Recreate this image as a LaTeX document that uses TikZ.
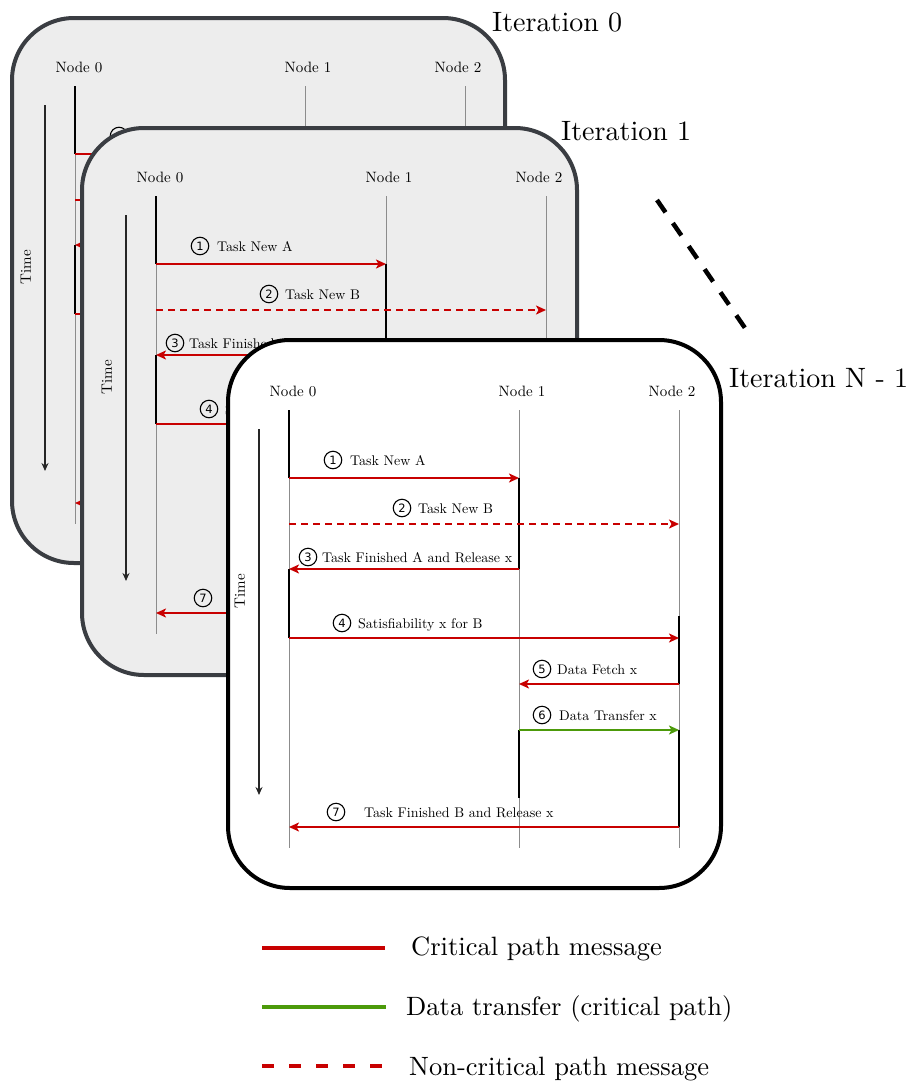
\documentclass[tikz,border=0pt]{standalone}
\usepackage{fontspec}
\setmainfont{lmroman10-regular.otf}
\newfontfamily\digitfont{DejaVu Sans}
\usetikzlibrary{arrows.meta}

\definecolor{msgred}{RGB}{200,0,0}
\definecolor{xfergreen}{RGB}{76,154,10}
\definecolor{cardgrey}{RGB}{237,237,237}
\definecolor{cardedge}{RGB}{58,61,66}
\definecolor{lifegrey}{RGB}{140,140,140}

\tikzset{
  card/.style={line width=4pt, rounded corners=62pt},
  backcard/.style={card, draw=cardedge, fill=cardgrey},
  frontcard/.style={card, draw=black, fill=white},
  nodelabel/.style={font=\fontsize{15}{18}\selectfont, inner sep=0pt, anchor=base},
  msglabel/.style={font=\fontsize{14}{17}\selectfont, inner sep=0pt, anchor=base west},
  numcirc/.style={circle, draw=black, line width=1.1pt, minimum size=17.5pt, inner sep=0pt,
                  font=\digitfont\fontsize{11.5}{12}\selectfont},
  timelabel/.style={font=\fontsize{15}{18}\selectfont, inner sep=0pt, rotate=90},
  lifeline/.style={draw=lifegrey, line width=0.9pt},
  activebar/.style={draw=black, line width=2.8pt},
  critmsg/.style={draw=msgred, line width=2pt, -{Stealth[length=10pt,width=9pt,inset=2.5pt]}},
  noncritmsg/.style={critmsg, dash pattern=on 7pt off 5pt},
  xfermsg/.style={critmsg, draw=xfergreen},
  timearrow/.style={draw=black!85, line width=1.4pt, -{Stealth[length=8pt,width=7pt]}},
  iterlabel/.style={font=\fontsize{28}{32}\selectfont, inner sep=0pt, anchor=base west},
  legendtext/.style={font=\fontsize{26.5}{32}\selectfont, inner sep=0pt, anchor=base west},
  legendline/.style={line width=4pt},
}

% One sequence diagram: three lifelines, seven messages.
% #1 is a prefix that keeps the names of each copy apart.
\newcommand\seqdiagram[1]{%
  % lifeline ends
  \coordinate (#1p0a) at (289,410); \coordinate (#1p0z) at (289,848);
  \coordinate (#1p1a) at (519,410); \coordinate (#1p1z) at (519,848);
  \coordinate (#1p2a) at (679,410); \coordinate (#1p2z) at (679,848);
  % message levels
  \coordinate (#1p0m1) at (289,478); \coordinate (#1p1m1) at (519,478);
  \coordinate (#1p0m2) at (289,524); \coordinate (#1p2m2) at (679,524);
  \coordinate (#1p1m3) at (519,569); \coordinate (#1p0m3) at (289,569);
  \coordinate (#1p0m4) at (289,638); \coordinate (#1p2m4) at (679,638);
  \coordinate (#1p2m5) at (679,684); \coordinate (#1p1m5) at (519,684);
  \coordinate (#1p1m6) at (519,730); \coordinate (#1p2m6) at (679,730);
  \coordinate (#1p2m7) at (679,827); \coordinate (#1p0m7) at (289,827);
  \coordinate (#1p2b) at (679,616);  \coordinate (#1p1c) at (519,798);
  % time axis
  \coordinate (#1ta) at (259,429); \coordinate (#1tz) at (259,795);
  % headings
  \node[nodelabel] (#1n0) at (293,396) {Node 0};
  \node[nodelabel] (#1n1) at (522,396) {Node 1};
  \node[nodelabel] (#1n2) at (672,396) {Node 2};
  % lifelines
  \draw[lifeline] (#1p0a) -- (#1p0z);
  \draw[lifeline] (#1p1a) -- (#1p1z);
  \draw[lifeline] (#1p2a) -- (#1p2z);
  % time
  \draw[timearrow] (#1ta) -- (#1tz);
  \node[timelabel] (#1time) at (240,591) {Time};
  % activation bars
  \draw[activebar] (#1p0a) -- (#1p0m1);
  \draw[activebar] (#1p1m1) -- (#1p1m3);
  \draw[activebar] (#1p0m3) -- (#1p0m4);
  \draw[activebar] (#1p2b) -- (#1p2m5);
  \draw[activebar] (#1p1m6) -- (#1p1c);
  \draw[activebar] (#1p2m6) -- (#1p2m7);
  % messages
  \draw[critmsg] (#1p0m1) -- (#1p1m1);
  \draw[noncritmsg] (#1p0m2) -- (#1p2m2);
  \draw[critmsg] (#1p1m3) -- (#1p0m3);
  \draw[critmsg] (#1p0m4) -- (#1p2m4);
  \draw[critmsg] (#1p2m5) -- (#1p1m5);
  \draw[xfermsg] (#1p1m6) -- (#1p2m6);
  \draw[critmsg] (#1p2m7) -- (#1p0m7);
  % message numbers and labels
  \node[numcirc] (#1c1) at (333,460) {1};
  \node[msglabel] (#1l1) at (350,465) {Task New A};
  \node[numcirc] (#1c2) at (402,508) {2};
  \node[msglabel] (#1l2) at (418,513) {Task New B};
  \node[numcirc] (#1c3) at (308,557) {3};
  \node[msglabel] (#1l3) at (322,562) {Task Finished A and Release x};
  \node[numcirc] (#1c4) at (342,623) {4};
  \node[msglabel] (#1l4) at (358,628) {Satisfiability x for B};
  \node[numcirc] (#1c5) at (542,669) {5};
  \node[msglabel] (#1l5) at (557,674) {Data Fetch x};
  \node[numcirc] (#1c6) at (542,715) {6};
  \node[msglabel] (#1l6) at (559,720) {Data Transfer x};
  \node[numcirc] (#1c7) at (336,812) {7};
  \node[msglabel] (#1l7) at (364,817) {Task Finished B and Release x};
}

\begin{document}
\begin{tikzpicture}[x=1pt, y=-1pt]
  \useasboundingbox (0,0) rectangle (914,1082);

  % iteration 0
  \path[backcard] (12,18) rectangle (505,563);
  \begin{scope}[shift={(-214,-324)}]
    \seqdiagram{ia}
  \end{scope}

  % iteration 1
  \path[backcard] (82,128) rectangle (577,675);
  \begin{scope}[shift={(-133,-214)}]
    \seqdiagram{ib}
  \end{scope}

  % iteration N-1
  \path[frontcard] (228,340) rectangle (721,888);
  \seqdiagram{ic}

  % iteration titles
  \node[iterlabel] (it0) at (492,31) {Iteration 0};
  \node[iterlabel] (it1) at (561,140) {Iteration 1};
  \node[iterlabel] (itn) at (729,387) {Iteration N - 1};

  % ellipsis between the stacked iterations
  \coordinate (dotsa) at (657,200);
  \coordinate (dotsb) at (745,328);
  \draw[line width=4.5pt, dash pattern=on 15pt off 13pt] (dotsa) -- (dotsb);

  % legend
  \coordinate (lg1a) at (262,948);  \coordinate (lg1b) at (385,948);
  \coordinate (lg2a) at (262,1007); \coordinate (lg2b) at (386,1007);
  \coordinate (lg3a) at (262,1066); \coordinate (lg3b) at (382,1066);
  \draw[legendline, draw=msgred] (lg1a) -- (lg1b);
  \draw[legendline, draw=xfergreen] (lg2a) -- (lg2b);
  \draw[legendline, draw=msgred, dash pattern=on 12pt off 15pt] (lg3a) -- (lg3b);
  \node[legendtext] (lt1) at (411,955) {Critical path message};
  \node[legendtext] (lt2) at (406,1015) {Data transfer (critical path)};
  \node[legendtext] (lt3) at (409,1075) {Non-critical path message};
\end{tikzpicture}
\end{document}
